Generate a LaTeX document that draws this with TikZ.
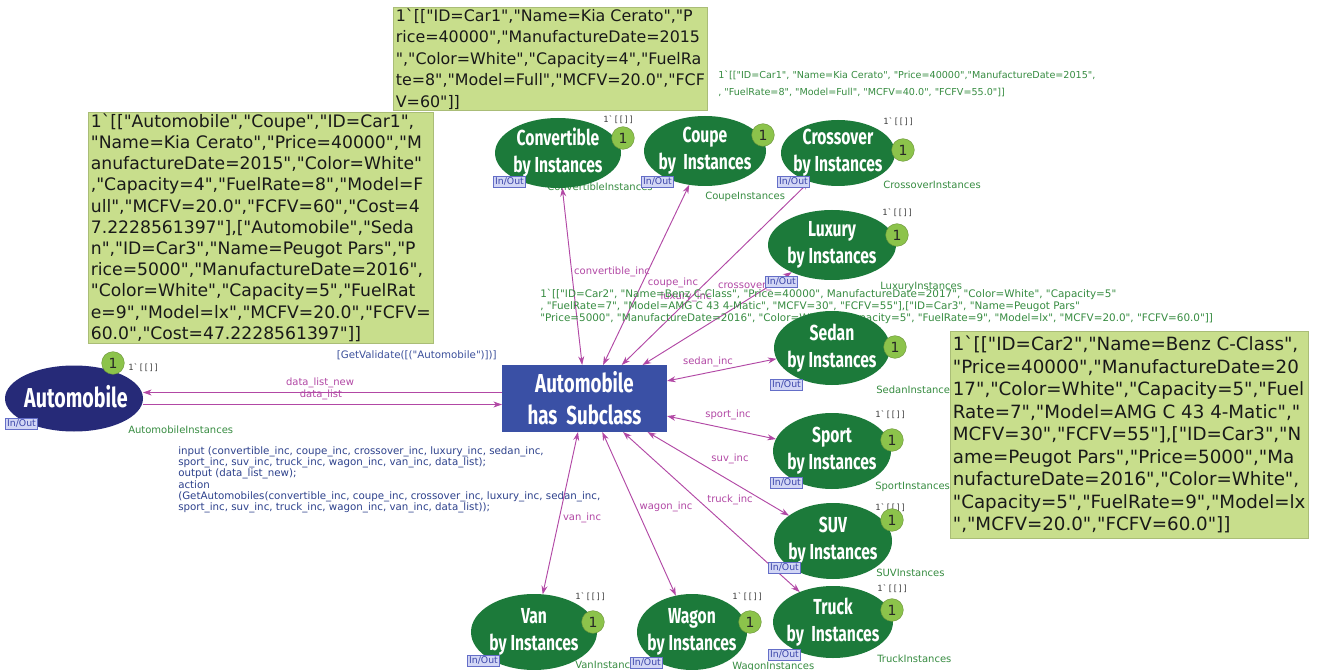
\documentclass[tikz,border=0pt]{standalone}
\usepackage{fontspec}
\setmainfont{DejaVu Sans}[Ligatures=TeXOff]
\newfontfamily\placefont[FakeStretch=0.72]{Fira Sans}
\newfontfamily\inscmono[Ligatures=TeXOff]{DejaVu Sans Mono}
\usetikzlibrary{shapes.geometric,arrows.meta,backgrounds}
\newcommand\bq{\char"60\relax}

\definecolor{placegreen}{RGB}{28,122,58}
\definecolor{autonavy}{RGB}{38,42,120}
\definecolor{transblue}{RGB}{58,80,165}
\definecolor{badgegreen}{RGB}{140,195,75}
\definecolor{boxgreen}{RGB}{200,222,140}
\definecolor{arccol}{RGB}{178,72,165}
\definecolor{inscgreen}{RGB}{55,140,65}
\definecolor{codeblue}{RGB}{45,65,140}
\definecolor{guardblue}{RGB}{60,80,155}
\definecolor{tagfill}{RGB}{210,214,245}
\definecolor{tagline}{RGB}{100,110,200}
\definecolor{tagtext}{RGB}{60,70,170}

\tikzset{
  place/.style 2 args={ellipse, fill=placegreen, draw=none, inner sep=0pt, outer sep=0pt,
    minimum width=#1*1.5pt, minimum height=#2*1.5pt},
  ptext/.style={text=white, align=center, inner sep=0pt,
    font=\placefont\bfseries\fontsize{16.3}{20.25}\selectfont},
  badge/.style={circle, fill=badgegreen, draw=badgegreen!75!black, line width=0.3pt,
    minimum size=17pt, inner sep=0pt, text=black!85, font=\fontsize{10.5}{10.5}\selectfont},
  tag/.style={draw=tagline, fill=tagfill, text=tagtext, line width=0.4pt, anchor=north west,
    inner xsep=1.4pt, inner ysep=0.6pt, text height=5.4pt, text depth=1.4pt,
    font=\fontsize{7}{7}\selectfont},
  iname/.style={text=inscgreen, inner sep=0pt, anchor=west, font=\fontsize{7.5}{8}\selectfont},
  imark/.style={text=black!75, inner sep=0pt, anchor=west, font=\inscmono\fontsize{6.4}{7}\selectfont},
  arclabel/.style={text=arccol, inner sep=0pt, font=\fontsize{7.5}{8}\selectfont},
  arcline/.style={draw=arccol, line width=0.7pt},
  biarc/.style={arcline, {Stealth[length=6.5pt,width=4.5pt]}-{Stealth[length=6.5pt,width=4.5pt]}},
  gbox/.style={fill=boxgreen, draw=boxgreen!85!black, line width=0.3pt, align=left,
    anchor=north west, inner xsep=2pt, inner ysep=1pt, text=black!90},
  plaintext/.style={inner sep=0pt, align=left, anchor=north west},
}

\begin{document}
\begin{tikzpicture}[x=0.75pt,y=-0.75pt]
\useasboundingbox (0,0) rectangle (1317,670);

% ---------- inscriptions lying under the places ----------
\node[plaintext, text=inscgreen, font=\fontsize{7.2}{12.75}\selectfont] (carone) at (718,71)
  {1\bq[["ID=Car1", "Name=Kia Cerato", "Price=40000","ManufactureDate=2015",\\
   , "FuelRate=8", "Model=Full", "MCFV=40.0", "FCFV=55.0"]]};
\node[plaintext, text=inscgreen, font=\fontsize{7.8}{9}\selectfont] (cartwo) at (540,289)
  {1\bq[["ID=Car2", "Name=Benz C-Class", "Price=40000", ManufactureDate=2017", "Color=White", "Capacity=5"\\
   , "FuelRate=7", "Model=AMG C 43 4-Matic", "MCFV=30", "FCFV=55"],["ID=Car3", "Name=Peugot Pars"\\
   "Price=5000", "ManufactureDate=2016", "Color=White", "Capacity=5", "FuelRate=9", "Model=lx", "MCFV=20.0", "FCFV=60.0"]]};

\node[plaintext, text=codeblue, font=\fontsize{7.7}{8.5}\selectfont] (code) at (178,446)
  {input (convertible\_inc, coupe\_inc, crossover\_inc, luxury\_inc, sedan\_inc,\\
   sport\_inc, suv\_inc, truck\_inc, wagon\_inc, van\_inc, data\_list);\\
   output (data\_list\_new);\\
   action\\
   (GetAutomobiles(convertible\_inc, coupe\_inc, crossover\_inc, luxury\_inc, sedan\_inc,\\
   sport\_inc, suv\_inc, truck\_inc, wagon\_inc, van\_inc, data\_list));};
\node[inner sep=0pt, anchor=east, text=guardblue, font=\fontsize{7.7}{8}\selectfont] (guard) at (497,355)
  {[GetValidate([("Automobile")])]};

% place names
\node[iname] (autoname)  at (128,430) {AutomobileInstances};
\node[iname] (convname)  at (547,187) {ConvertibleInstances};
\node[iname] (coupename) at (705,197) {CoupeInstances};
\node[iname] (crossname) at (883,185) {CrossoverInstances};
\node[iname] (luxname)   at (880,287) {LuxuryInstances};
\node[iname] (sedanname) at (876,390) {SedanInstances};
\node[iname] (sportname) at (875,487) {SportInstances};
\node[iname] (suvname)   at (876,573) {SUVInstances};
\node[iname] (truckname) at (877,659) {TruckInstances};
\node[iname] (wagonname) at (732,667) {WagonInstances};
\node[iname] (vanname)   at (575,665) {VanInstances};

% initial markings
\node[imark] (automark)  at (128,368) {1\bq[[]]};
\node[imark] (convmark)  at (603,120) {1\bq[[]]};
\node[imark] (crossmark) at (883,122) {1\bq[[]]};
\node[imark] (luxmark)   at (882,213) {1\bq[[]]};
\node[imark] (sportmark) at (875,415) {1\bq[[]]};
\node[imark] (suvmark)   at (875,508) {1\bq[[]]};
\node[imark] (truckmark) at (877,589) {1\bq[[]]};
\node[imark] (wagonmark) at (732,597) {1\bq[[]]};
\node[imark] (vanmark)   at (575,597) {1\bq[[]]};

% ---------- places ----------
\node[ellipse, fill=autonavy, inner sep=0pt, outer sep=0pt, minimum width=103.5pt, minimum height=49.5pt]
  (auto) at (74,398.5) {};
\node[text=white, inner sep=0pt, font=\placefont\bfseries\fontsize{20.5}{22}\selectfont] (autotext) at (76,397) {Automobile};

\node[place={63}{35}] (conv)  at (558,153) {};
\node[place={61}{35}] (coupe) at (705,151) {};
\node[place={57}{33}] (cross) at (838,153) {};
\node[place={64}{35}] (lux)   at (832,245) {};
\node[place={58}{37}] (sedan) at (832,348) {};
\node[place={59}{38}] (sport) at (832,451) {};
\node[place={59}{38}] (suv)   at (833,541) {};
\node[place={60}{36}] (truck) at (833,622) {};
\node[place={55}{38}] (wagon) at (692,632) {};
\node[place={63}{38}] (van)   at (534,632) {};

\node[ptext] (convtext)  at (conv)  {Convertible\\by Instances};
\node[ptext] (coupetext) at (coupe) {Coupe\\by\ \ Instances};
\node[ptext] (crosstext) at (cross) {Crossover\\by Instances};
\node[ptext] (luxtext)   at (lux)   {Luxury\\by Instances};
\node[ptext] (sedantext) at (sedan) {Sedan\\by Instances};
\node[ptext] (sporttext) at (sport) {Sport\\by Instances};
\node[ptext] (suvtext)   at (suv)   {SUV\\by Instances};
\node[ptext] (trucktext) at (truck) {Truck\\by\ \ Instances};
\node[ptext] (wagontext) at (wagon) {Wagon\\by Instances};
\node[ptext] (vantext)   at (van)   {Van\\by Instances};

% token counters
\node[badge] (autobadge)  at (113,363) {1};
\node[badge] (convbadge)  at (623,138) {1};
\node[badge] (coupebadge) at (763,135) {1};
\node[badge] (crossbadge) at (903,150) {1};
\node[badge] (luxbadge)   at (897,235) {1};
\node[badge] (sedanbadge) at (895,347) {1};
\node[badge] (sportbadge) at (892,440) {1};
\node[badge] (suvbadge)   at (892,520) {1};
\node[badge] (truckbadge) at (892,610) {1};
\node[badge] (wagonbadge) at (750,622) {1};
\node[badge] (vanbadge)   at (593,622) {1};

% ---------- transition ----------
\node[rectangle, fill=transblue, inner sep=0pt, outer sep=0pt, minimum width=123.75pt, minimum height=50.25pt]
  (trans) at (584.5,398.5) {};
\node[text=white, align=center, inner sep=0pt, font=\placefont\bfseries\fontsize{19.5}{24}\selectfont]
  (transtext) at (trans) {Automobile\\has\ \ Subclass};

% port tags
\node[tag] (autoio)  at (5,418)   {In/Out};
\node[tag] (convio)  at (493,176) {In/Out};
\node[tag] (coupeio) at (641,176) {In/Out};
\node[tag] (crossio) at (777,176) {In/Out};
\node[tag] (luxio)   at (765,276) {In/Out};
\node[tag] (sedanio) at (770,379) {In/Out};
\node[tag] (sportio) at (770,477) {In/Out};
\node[tag] (suvio)   at (768,562) {In/Out};
\node[tag] (truckio) at (768,649) {In/Out};
\node[tag] (wagonio) at (630,657) {In/Out};
\node[tag] (vanio)   at (467,655) {In/Out};

% ---------- current markings ----------
\node[gbox, minimum height=77pt, font=\fontsize{11.9}{16.1}\selectfont] (convtokens) at (393,7)
  {1\bq[["ID=Car1","Name=Kia Cerato","P\\
   rice=40000","ManufactureDate=2015\\
   ","Color=White","Capacity=4","FuelRa\\
   te=8","Model=Full","MCFV=20.0","FCF\\
   V=60"]]};
\node[gbox, minimum height=173pt, font=\fontsize{12.9}{15.9}\selectfont] (autotokens) at (88,112)
  {1\bq[["Automobile","Coupe","ID=Car1",\\
   "Name=Kia Cerato","Price=40000","M\\
   anufactureDate=2015","Color=White"\\
   ,"Capacity=4","FuelRate=8","Model=F\\
   ull","MCFV=20.0","FCFV=60","Cost=4\\
   7.2228561397"],["Automobile","Seda\\
   n","ID=Car3","Name=Peugot Pars","P\\
   rice=5000","ManufactureDate=2016",\\
   "Color=White","Capacity=5","FuelRat\\
   e=9","Model=lx","MCFV=20.0","FCFV=\\
   60.0","Cost=47.2228561397"]]};
\node[gbox, minimum height=155pt, font=\fontsize{13.7}{16.9}\selectfont] (sedantokens) at (950,331)
  {1\bq[["ID=Car2","Name=Benz C-Class",\\
   "Price=40000","ManufactureDate=20\\
   17","Color=White","Capacity=5","Fuel\\
   Rate=7","Model=AMG C 43 4-Matic","\\
   MCFV=30","FCFV=55"],["ID=Car3","N\\
   ame=Peugot Pars","Price=5000","Ma\\
   nufactureDate=2016","Color=White",\\
   "Capacity=5","FuelRate=9","Model=lx\\
   ","MCFV=20.0","FCFV=60.0"]]};

% ---------- arcs (kept beneath the nodes) ----------
\begin{scope}[on background layer]
  \fill[white] (0,0) rectangle (1317,670);
  \draw[arcline, {Stealth[length=6.5pt,width=4.5pt]}-] ([yshift=4.5pt]auto.east) -- ([yshift=4.5pt]trans.west);
  \draw[arcline, -{Stealth[length=6.5pt,width=4.5pt]}] ([yshift=-4.5pt]auto.east) -- ([yshift=-4.5pt]trans.west);
  \draw[biarc] (trans.94)    -- (conv.-83.5);
  \draw[biarc] (trans.61)    -- (coupe.-115.5);
  \draw[biarc] (trans.42)    -- (cross.-135.5);
  \draw[biarc] (trans.30)    -- (lux.214);
  \draw[biarc] (trans.12.6)  -- (sedan.191);
  \draw[biarc] (trans.-12)   -- (sport.168);
  \draw[biarc] (trans.-28.6) -- (suv.150);
  \draw[biarc] (trans.-41)   -- (truck.138);
  \draw[biarc] (trans.-62.4) -- (wagon.114.3);
  \draw[biarc] (trans.-101)  -- (van.77.5);

  \node[arclabel] (lnew)   at (320,383) {data\_list\_new};
  \node[arclabel] (lold)   at (321,395) {data\_list};
  \node[arclabel] (lconv)  at (612,272) {convertible\_inc};
  \node[arclabel] (lcoupe) at (673,283) {coupe\_inc};
  \node[arclabel] (lcross) at (752,286) {crossover\_inc};
  \node[arclabel] (llux)   at (686,297) {luxury\_inc};
  \node[arclabel] (lsedan) at (708,362) {sedan\_inc};
  \node[arclabel] (lsport) at (728,415) {sport\_inc};
  \node[arclabel] (lsuv)   at (730,459) {suv\_inc};
  \node[arclabel] (ltruck) at (730,500) {truck\_inc};
  \node[arclabel] (lwagon) at (666,507) {wagon\_inc};
  \node[arclabel] (lvan)   at (582,518) {van\_inc};
\end{scope}
\end{tikzpicture}
\end{document}
